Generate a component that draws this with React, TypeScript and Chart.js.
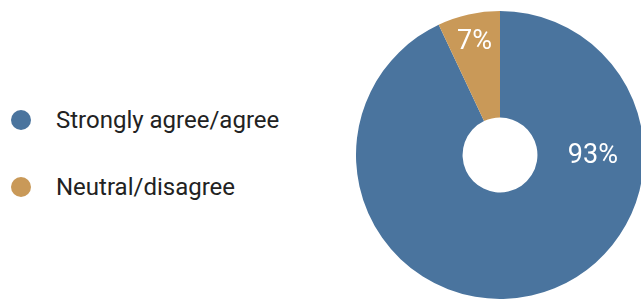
import React, { useEffect, useRef } from "react";
import { Chart, registerables } from "chart.js";

Chart.register(...registerables);

const categories: string[] = ["Strongly agree/agree", "Neutral/disagree"];
const values: number[] = [93, 7];
const valueLabels: string[] = ["93%", "7%"];
const colors: string[] = ["#4A749E", "#C99958"];

const labelPlugin = {
  id: "sliceLabels",
  afterDatasetsDraw(chart: any) {
    const meta = chart.getDatasetMeta(0);
    const ctx = chart.ctx;
    ctx.save();
    ctx.fillStyle = "#ffffff";
    ctx.font = "400 27px Roboto";
    ctx.textAlign = "center";
    ctx.textBaseline = "middle";
    meta.data.forEach((arc: any, i: number) => {
      const p = arc.getProps(["x", "y", "startAngle", "endAngle", "outerRadius"], true);
      let angle: number;
      let r: number;
      if (i === 0) {
        angle = 0;
        r = p.outerRadius * 0.645;
      } else {
        angle = (p.startAngle + p.endAngle) / 2;
        r = p.outerRadius * 0.81;
      }
      ctx.fillText(valueLabels[i], p.x + Math.cos(angle) * r, p.y + Math.sin(angle) * r + 1);
    });
    ctx.restore();
  },
};

export default function App() {
  const ref = useRef<HTMLCanvasElement | null>(null);

  useEffect(() => {
    if (!ref.current) return;
    const chart = new Chart(ref.current, {
      type: "doughnut",
      data: {
        labels: categories,
        datasets: [
          {
            data: values,
            backgroundColor: colors,
            borderWidth: 0,
          },
        ],
      },
      options: {
        animation: false,
        responsive: true,
        maintainAspectRatio: false,
        cutout: "26%",
        layout: { padding: 0 },
        plugins: {
          legend: { display: false },
          tooltip: { enabled: false },
        },
      },
      plugins: [labelPlugin],
    });
    return () => chart.destroy();
  }, []);

  return (
    <div
      style={{
        position: "fixed",
        left: 0,
        top: 0,
        width: 641,
        height: 299,
        overflow: "hidden",
        background: "#ffffff",
        fontFamily: "Roboto, sans-serif",
      }}
    >
      {categories.map((c, i) => (
        <div
          key={c}
          style={{
            position: "absolute",
            left: 11,
            top: 120 + i * 67 - 15,
            height: 30,
            display: "flex",
            alignItems: "center",
            whiteSpace: "nowrap",
          }}
        >
          <span
            style={{
              display: "inline-block",
              width: 20,
              height: 20,
              borderRadius: "50%",
              background: colors[i],
              marginRight: 25,
            }}
          />
          <span style={{ fontSize: 24, color: "#222222", lineHeight: "30px" }}>{c}</span>
        </div>
      ))}
      <div style={{ position: "absolute", left: 356, top: 11, width: 288, height: 288 }}>
        <canvas ref={ref} />
      </div>
    </div>
  );
}
